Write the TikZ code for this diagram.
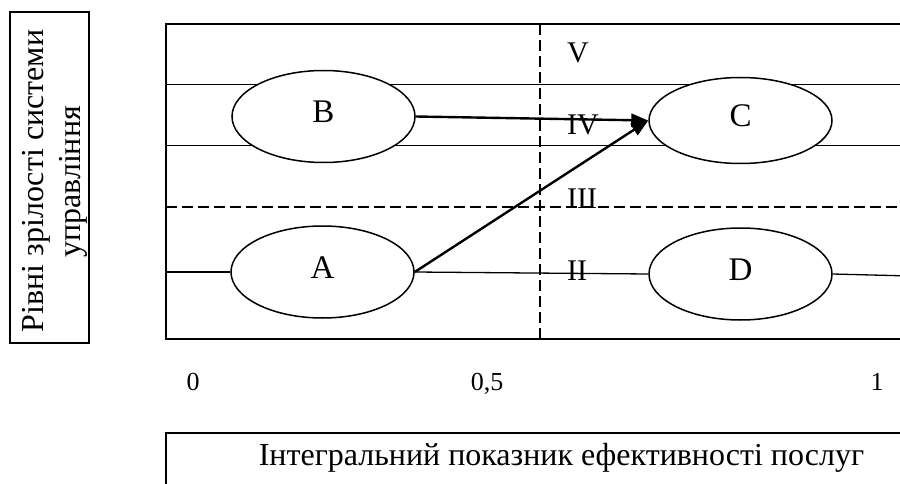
\documentclass[tikz,border=0pt]{standalone}
\usepackage{fontspec}
\setmainfont{Liberation Serif}
\usetikzlibrary{shapes.geometric,arrows.meta}

\begin{document}
\begin{tikzpicture}[x=1pt,y=-1pt,
  frame/.style={line width=1.8pt},
  level/.style={line width=1.3pt},
  divider/.style={line width=1.4pt, dash pattern=on 11pt off 5pt},
  zone/.style={ellipse, draw, line width=1.5pt, fill=white,
    minimum width=183pt, minimum height=92pt, inner sep=0pt},
  letter/.style={font=\fontsize{33}{38}\selectfont, inner sep=0pt, yshift=4.5pt},
  roman/.style={font=\fontsize{30}{36}\selectfont, anchor=base west, inner sep=0pt},
  tick/.style={font=\fontsize{26}{30}\selectfont, anchor=base, inner sep=0pt},
  caption/.style={font=\fontsize{32}{38}\selectfont, anchor=base, inner sep=0pt},
  move/.style={line width=2.4pt, -{Triangle[length=17pt,width=13pt]}}
]
\useasboundingbox (0,0) rectangle (900,484);
\clip (0,0) rectangle (900,484);

% vertical axis caption
\node[draw, line width=1.8pt, rotate=90, minimum width=331pt, minimum height=79pt,
      inner sep=0pt] (ybox) at (49.5,177.5) {};
\node[caption, rotate=90] (ytext1) at (43,181) {Рівні зрілості системи};
\node[caption, rotate=90] (ytext2) at (80,182) {управління};

% frame with the maturity levels
\draw[frame] (910,24) -- (166,24) -- (166,339) -- (910,339);
\draw[level] (166,84.5) -- (910,84.5);
\draw[level] (166,145.5) -- (910,145.5);
\draw[divider] (166,207) -- (910,207);
\draw[divider] (540,24) -- (540,339);

% positions
\node[zone, label={[letter]center:B}] (B) at (323.5,116.5) {};
\node[zone, minimum height=86pt, label={[letter]center:C}] (C) at (740.5,120.5) {};
\node[zone, label={[letter]center:A}] (A) at (322.5,272) {};
\node[zone, label={[letter]center:D}] (D) at (740.5,274) {};

\draw[level] (166,272) -- (A.west);
\draw[level] (A.east) -- (D.west);
\draw[level] (D.east) -- (910,276);

% level numbers
\node[roman] (l5) at (567,63) {V};
\node[roman] (l4) at (567,135) {IV};
\node[roman] (l3) at (567,208) {III};
\node[roman] (l2) at (567,280) {II};

% transitions
\draw[move] (B.east) -- (C.west);
\draw[move] (A.east) -- (C.west);

% horizontal scale
\node[tick] (t0) at (193,390) {0};
\node[tick] (t05) at (487,390) {0,5};
\node[tick] (t1) at (877,390) {1};

% horizontal axis caption
\draw[frame] (166,500) -- (166,433) -- (910,433);
\node[caption] (xtext) at (561.5,465) {Інтегральний показник ефективності послуг};
\end{tikzpicture}
\end{document}
